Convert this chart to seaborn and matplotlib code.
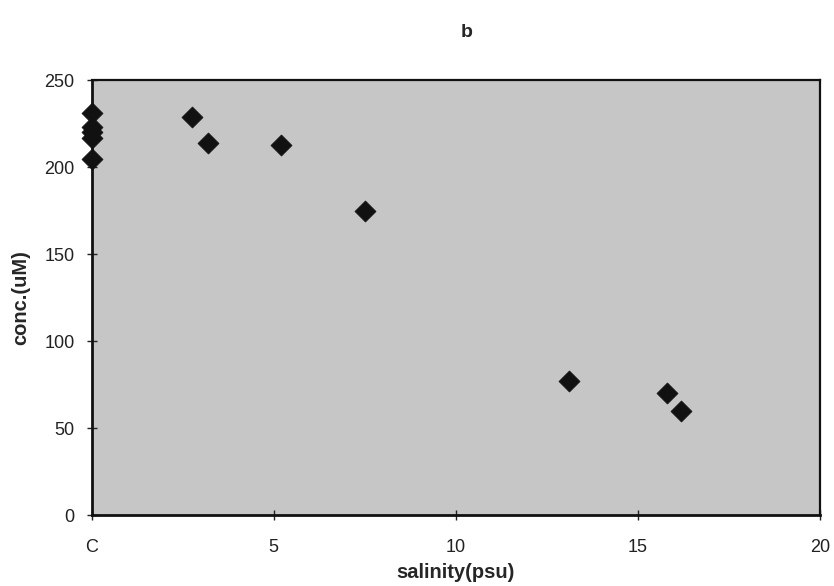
import matplotlib
matplotlib.use("Agg")
import matplotlib.pyplot as plt
import seaborn as sns
import pandas as pd

# Salinity (psu) and concentration (uM) samples
salinity = [0.0, 0.0, 0.0, 0.0, 0.0, 2.75, 3.2, 5.2, 7.5, 13.1, 15.8, 16.2]
conc = [231, 223, 220, 217, 205, 229, 214, 213, 175, 77, 70, 60]

x_ticks = [0, 5, 10, 15, 20]
x_tick_labels = ["C", "5", "10", "15", "20"]
y_ticks = [0, 50, 100, 150, 200, 250]

df = pd.DataFrame({"salinity": salinity, "conc": conc})

sns.set_style("ticks")
plt.rcParams["font.family"] = ["Liberation Sans", "DejaVu Sans"]

fig = plt.figure(figsize=(8.34, 5.86), dpi=100)
ax = fig.add_axes([0.110, 0.121, 0.873, 0.742])
ax.set_facecolor("#c6c6c6")

sns.scatterplot(data=df, x="salinity", y="conc", marker="D", s=115,
                color="#111111", edgecolor="#111111", linewidth=0.5,
                ax=ax, zorder=3, clip_on=False)

ax.set_xlim(0, 20)
ax.set_ylim(0, 250)
ax.set_xticks(x_ticks)
ax.set_xticklabels(x_tick_labels)
ax.set_yticks(y_ticks)
ax.tick_params(axis="both", labelsize=13, colors="#222222", length=7,
               width=1.0, direction="inout")
ax.tick_params(axis="x", pad=14)
ax.tick_params(axis="y", pad=9)

for side in ["left", "bottom"]:
    ax.spines[side].set_linewidth(2.0)
    ax.spines[side].set_color("#111111")
for side in ["top", "right"]:
    ax.spines[side].set_visible(True)
    ax.spines[side].set_linewidth(1.6)
    ax.spines[side].set_color("#111111")

ax.set_xlabel("salinity(psu)", fontsize=14.5, fontweight="bold", labelpad=5)
ax.set_ylabel("conc.(uM)", fontsize=14.5, fontweight="bold", labelpad=10)
fig.text(0.56, 0.945, "b", fontsize=14, fontweight="bold", ha="center", va="center")

fig.savefig("out.png", dpi=100)
